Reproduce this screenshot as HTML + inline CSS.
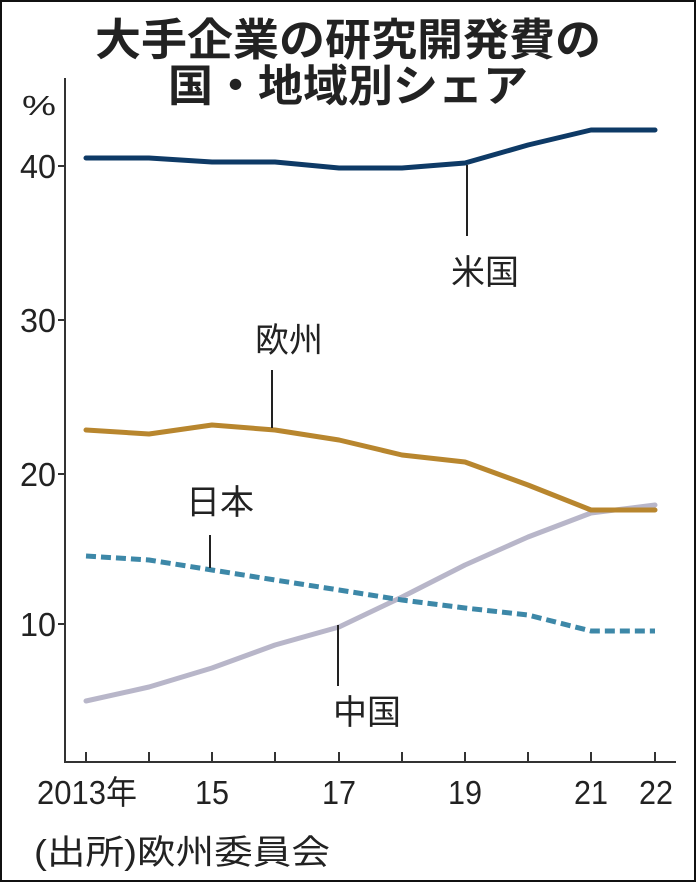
<!DOCTYPE html>
<html><head><meta charset="utf-8"><style>
html,body{margin:0;padding:0;background:#fff}
svg{display:block}
text{font-family:"Liberation Sans","Noto Sans CJK JP",sans-serif;fill:#222}
</style></head><body>
<svg width="696" height="882" viewBox="0 0 696 882" xmlns="http://www.w3.org/2000/svg">
<rect x="1" y="1" width="694" height="880" fill="#fff" stroke="#111" stroke-width="2"/>
<text x="348" y="55" text-anchor="middle" font-size="44" font-weight="bold" textLength="506" lengthAdjust="spacingAndGlyphs" style="font-family:'Noto Sans CJK JP',sans-serif">大手企業の研究開発費の</text>
<text x="348" y="101" text-anchor="middle" font-size="44" font-weight="bold" textLength="360" lengthAdjust="spacingAndGlyphs" style="font-family:'Noto Sans CJK JP',sans-serif">国・地域別シェア</text>
<text x="22" y="115" font-size="28" textLength="34" lengthAdjust="spacingAndGlyphs">%</text>
<g stroke="#333" stroke-width="2" fill="none">
<line x1="65" y1="78" x2="65" y2="762"/>
<line x1="64" y1="762" x2="676" y2="762"/>
<line x1="58" y1="166" x2="65" y2="166"/>
<line x1="58" y1="320" x2="65" y2="320"/>
<line x1="58" y1="474" x2="65" y2="474"/>
<line x1="58" y1="624" x2="65" y2="624"/>
<path d="M86 762v-10M149 762v-10M212 762v-10M275 762v-10M339 762v-10M402 762v-10M465 762v-10M528 762v-10M591 762v-10M655 762v-10"/>
</g>
<g font-size="33" text-anchor="end">
<text x="56" y="178" textLength="36" lengthAdjust="spacingAndGlyphs">40</text><text x="56" y="332" textLength="36" lengthAdjust="spacingAndGlyphs">30</text><text x="56" y="486" textLength="36" lengthAdjust="spacingAndGlyphs">20</text><text x="56" y="636" textLength="36" lengthAdjust="spacingAndGlyphs">10</text>
</g>
<g font-size="33" text-anchor="middle">
<text x="87" y="804" textLength="100" lengthAdjust="spacingAndGlyphs">2013年</text><text x="212" y="804" textLength="34" lengthAdjust="spacingAndGlyphs">15</text><text x="339" y="804" textLength="34" lengthAdjust="spacingAndGlyphs">17</text><text x="465" y="804" textLength="34" lengthAdjust="spacingAndGlyphs">19</text><text x="591" y="804" textLength="34" lengthAdjust="spacingAndGlyphs">21</text><text x="656" y="804" textLength="34" lengthAdjust="spacingAndGlyphs">22</text>
</g>
<text x="34" y="864" font-size="34" textLength="296" lengthAdjust="spacingAndGlyphs">(出所)欧州委員会</text>
<g fill="none" stroke-width="5" stroke-linejoin="round" stroke-linecap="round">
<polyline stroke="#b8b6c9" points="86,701 149,687 212,668 275,645 339,627 402,597 465,565 528,537 591,513 655,505"/>
<polyline stroke="#3d88a8" stroke-dasharray="10,5" stroke-linecap="butt" points="86,556 149,560 212,570 275,580 339,590 402,600 465,608 528,615 591,631 655,631"/>
<polyline stroke="#b8862e" points="86,430 149,434 212,425 275,430 339,440 402,455 465,462 528,485 591,510 655,510"/>
<polyline stroke="#0e3a66" points="86,158 149,158 212,162 275,162 339,168 402,168 465,163 528,145 591,130 655,130"/>
</g>
<g stroke="#222" stroke-width="2">
<line x1="467" y1="165" x2="467" y2="236"/>
<line x1="272" y1="370" x2="272" y2="428"/>
<line x1="210" y1="535" x2="210" y2="568"/>
<line x1="338" y1="625" x2="338" y2="686"/>
</g>
<g font-size="34" text-anchor="middle">
<text x="485" y="284">米国</text>
<text x="289" y="352">欧州</text>
<text x="220" y="514">日本</text>
<text x="367" y="724">中国</text>
</g>
</svg>
</body></html>
